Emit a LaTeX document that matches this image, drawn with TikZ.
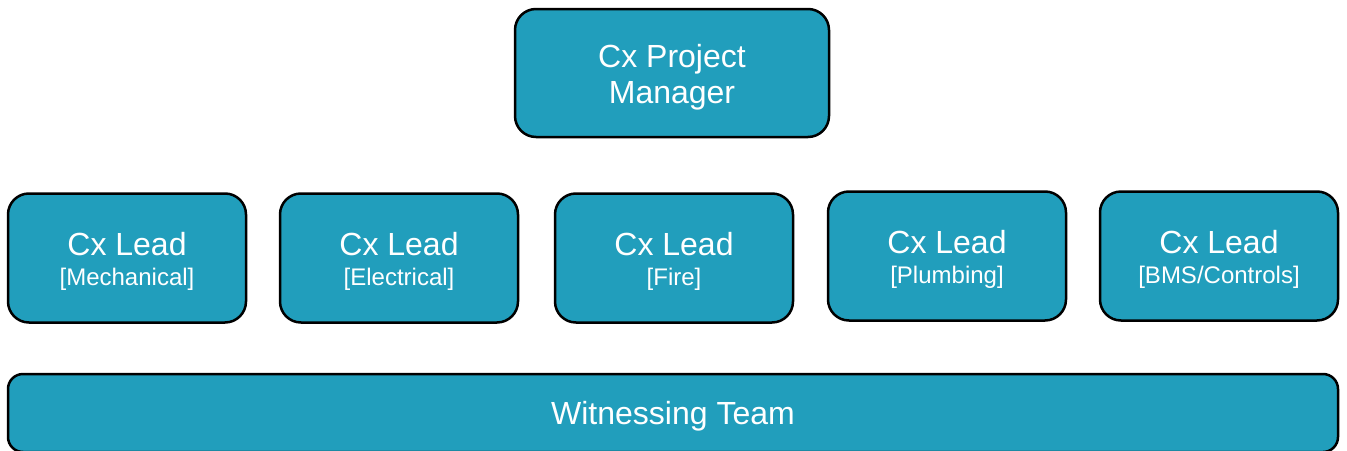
\documentclass[tikz,border=0pt]{standalone}
\usepackage{fontspec}
\setmainfont{Liberation Sans}
\definecolor{boxteal}{HTML}{219EBC}
% extra room above a line of text, to set it a little lower in its box
\newcommand{\padtop}[2]{\raisebox{0pt}[\dimexpr\height+#1\relax]{#2}}
\begin{document}
\begin{tikzpicture}[x=1pt,y=-1pt,
  orgbox/.style={draw=black, line width=2.5pt, fill=boxteal, rounded corners=21pt,
    text=white, align=center, inner sep=0pt,
    font=\fontsize{32}{36}\selectfont},
  leadbox/.style={orgbox, minimum width=238pt, minimum height=129pt}]
  \useasboundingbox (0,0) rectangle (1347,450);
  % top of the hierarchy
  \node[orgbox, minimum width=314pt, minimum height=128pt] (pm) at (672,73)
    {\padtop{9pt}{Cx Project}\\[0pt]Manager};
  % discipline leads
  \newcommand{\leadtext}[1]{\padtop{6pt}{Cx Lead}\\[-6pt]{\fontsize{24}{29}\selectfont #1}}
  \node[leadbox] (mech) at (127,258) {\leadtext{[Mechanical]}};
  \node[leadbox] (elec) at (399,258) {\leadtext{[Electrical]}};
  \node[leadbox] (fire) at (674,258) {\leadtext{[Fire]}};
  \node[leadbox] (plmb) at (947,256) {\leadtext{[Plumbing]}};
  \node[leadbox] (bms)  at (1219,256) {\leadtext{[BMS/Controls]}};
  % team strip along the bottom
  \node[orgbox, rounded corners=15pt, minimum width=1330pt, minimum height=78pt] (team) at (673,413)
    {\padtop{6pt}{Witnessing Team}};
\end{tikzpicture}
\end{document}
